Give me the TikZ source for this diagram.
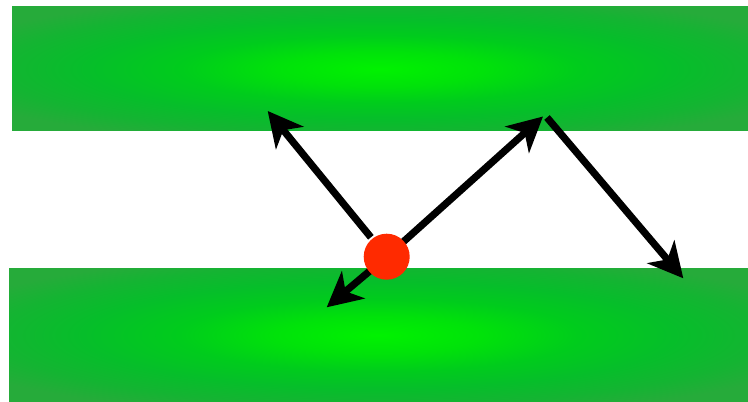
\documentclass[tikz,border=0pt]{standalone}
\usetikzlibrary{arrows.meta}
\definecolor{gbright}{RGB}{0,242,0}
\definecolor{ga}{RGB}{0,226,10}
\definecolor{gb}{RGB}{0,204,28}
\definecolor{gc}{RGB}{6,190,42}
\definecolor{gd}{RGB}{20,180,50}
\definecolor{gedge}{RGB}{38,171,58}
\definecolor{dotred}{RGB}{255,42,0}
\pgfdeclareradialshading{barshade}{\pgfpoint{0bp}{0bp}}{color(0bp)=(gbright); color(7bp)=(ga); color(13.5bp)=(gb); color(20bp)=(gc); color(26bp)=(gd); color(31bp)=(gedge); color(50bp)=(gedge)}
\tikzset{
  bar/.style={shading=barshade, draw=none},
  ray/.style={line width=5.4pt, -{Stealth[length=26pt, width=26.5pt, inset=7.5pt]}},
  particle/.style={circle, fill=dotred, draw=none, minimum size=34.5pt, inner sep=0pt}
}
\begin{document}
\begin{tikzpicture}[x=0.75pt, y=-0.75pt]
\useasboundingbox (0,0) rectangle (748,402);
\shade[bar] (12,7) rectangle (748,131);
\shade[bar] (9,268) rectangle (748,402);
\coordinate (c) at (386.7,256.7);
\coordinate (t1) at (267.7,111);
\coordinate (t2) at (543,116.5);
\coordinate (b) at (547,117.5);
\coordinate (t3) at (683.3,278.3);
\coordinate (t4) at (326.7,307.3);
\draw[ray, shorten <=25pt*0.75] (c) -- (t1);
\draw[ray] (c) -- (t2);
\draw[ray] (b) -- (t3);
\draw[ray] (c) -- (t4);
\node[particle] (dot) at (c) {};
\end{tikzpicture}
\end{document}
